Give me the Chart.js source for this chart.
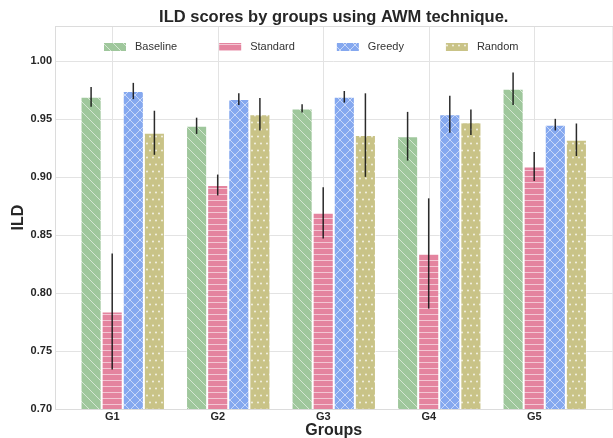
<!DOCTYPE html>
<html lang="en">
<head>
  <meta charset="UTF-8" />
  <title>ILD scores by groups using AWM technique</title>
  <script src="https://cdn.jsdelivr.net/npm/chart.js"></script>
  <style>
    body {
      margin: 0;
      background-color: #fff;
    }
    .chart-container {
      width: 613px;
      height: 438px;
    }
  </style>
</head>
<body>
  <div class="chart-container">
    <canvas id="barChart"></canvas>
  </div>

  <script>
    const groups = ['G1', 'G2', 'G3', 'G4', 'G5'];
    const methods = ['Baseline', 'Standard', 'Greedy', 'Random'];

    const baseline = [0.969, 0.944, 0.959, 0.935, 0.976];
    const baselineErr = [0.0085, 0.007, 0.0035, 0.021, 0.014];
    const standard = [0.784, 0.893, 0.869, 0.834, 0.909];
    const standardErr = [0.05, 0.009, 0.022, 0.0475, 0.0125];
    const greedy = [0.974, 0.967, 0.969, 0.954, 0.945];
    const greedyErr = [0.007, 0.005, 0.005, 0.016, 0.005];
    const random = [0.938, 0.954, 0.936, 0.947, 0.932];
    const randomErr = [0.019, 0.014, 0.036, 0.011, 0.014];

    const yTicks = [0.70, 0.75, 0.80, 0.85, 0.90, 0.95, 1.00];

    const chartTitle = 'ILD scores by groups using AWM technique.';

    const FONT = "'Liberation Sans', Arial, sans-serif";
    const GRID = '#e3e3e3';

    // hatch patterns, like matplotlib's '\\', '--', 'x' and '.'
    function makePattern(color, kind) {
      const c = document.createElement('canvas');
      const size = { diag: [10, 10], hline: [10, 6], cross: [10, 10], dots: [12, 14] }[kind];
      c.width = size[0];
      c.height = size[1];
      const g = c.getContext('2d');
      g.fillStyle = color;
      g.fillRect(0, 0, c.width, c.height);
      g.strokeStyle = 'rgba(255,255,255,0.55)';
      g.fillStyle = 'rgba(255,255,255,0.85)';
      g.lineWidth = 1;
      if (kind === 'diag') {
        g.beginPath();
        g.moveTo(-2, -2); g.lineTo(12, 12);
        g.moveTo(-2, 8); g.lineTo(2, 12);
        g.moveTo(8, -2); g.lineTo(12, 2);
        g.stroke();
      } else if (kind === 'hline') {
        g.beginPath();
        g.moveTo(0, 2.5); g.lineTo(10, 2.5);
        g.stroke();
      } else if (kind === 'cross') {
        g.beginPath();
        g.moveTo(-2, -2); g.lineTo(12, 12);
        g.moveTo(-2, 12); g.lineTo(12, -2);
        g.stroke();
      } else {
        [[3, 3.5], [9, 3.5], [0, 10.5], [6, 10.5], [12, 10.5]].forEach(p => {
          g.beginPath();
          g.arc(p[0], p[1], 0.9, 0, Math.PI * 2);
          g.fill();
        });
      }
      return g.createPattern(c, 'repeat');
    }

    const errors = [baselineErr, standardErr, greedyErr, randomErr];

    // frame and grid, extended a little past the bars like matplotlib margins
    const gridPlugin = {
      id: 'gridFrame',
      beforeDatasetsDraw(chart) {
        const { ctx, chartArea: a, scales } = chart;
        const ext = 15;
        ctx.save();
        ctx.strokeStyle = GRID;
        ctx.lineWidth = 1;
        scales.y.ticks.forEach(t => {
          const y = Math.round(scales.y.getPixelForValue(t.value)) + 0.5;
          ctx.beginPath();
          ctx.moveTo(a.left - ext, y);
          ctx.lineTo(a.right + ext, y);
          ctx.stroke();
        });
        chart.getDatasetMeta(1).data.forEach(bar => {
          const x = Math.round(bar.x) + 0.5;
          ctx.beginPath();
          ctx.moveTo(x, a.top);
          ctx.lineTo(x, a.bottom);
          ctx.stroke();
        });
        ctx.strokeStyle = '#dcdcdc';
        ctx.strokeRect(Math.round(a.left - ext) + 0.5, Math.round(a.top) + 0.5,
          a.right - a.left + 2 * ext, Math.round(a.bottom) - Math.round(a.top));
        ctx.restore();
      }
    };

    const errorBarPlugin = {
      id: 'errorBars',
      afterDatasetsDraw(chart) {
        const { ctx, scales } = chart;
        ctx.save();
        ctx.strokeStyle = 'rgba(20,20,20,0.9)';
        ctx.lineWidth = 1.5;
        chart.data.datasets.forEach((ds, d) => {
          chart.getDatasetMeta(d).data.forEach((bar, i) => {
            const v = ds.data[i];
            const e = errors[d][i];
            ctx.beginPath();
            ctx.moveTo(bar.x, scales.y.getPixelForValue(v + e));
            ctx.lineTo(bar.x, scales.y.getPixelForValue(v - e));
            ctx.stroke();
          });
        });
        ctx.restore();
      }
    };

    // legend inside the plot and title centred over the axes, as matplotlib does
    const legendPlugin = {
      id: 'innerLegend',
      afterDraw(chart) {
        const { ctx, chartArea: a } = chart;
        let x = a.left + 34;
        const y = a.top + 21;
        ctx.save();
        ctx.font = '11px ' + FONT;
        ctx.textBaseline = 'middle';
        chart.data.datasets.forEach(ds => {
          ctx.fillStyle = ds.backgroundColor;
          ctx.fillRect(x, y - 4, 22, 8);
          ctx.fillStyle = '#333';
          ctx.fillText(ds.label, x + 31, y);
          x += 31 + ctx.measureText(ds.label).width + 42;
        });

        ctx.font = 'bold 16.5px ' + FONT;
        ctx.fillStyle = '#262626';
        ctx.textAlign = 'center';
        ctx.fillText(chartTitle, (a.left + a.right) / 2, 17);
        ctx.restore();
      }
    };

    const ctx = document.getElementById('barChart').getContext('2d');
    new Chart(ctx, {
      type: 'bar',
      data: {
        labels: groups,
        datasets: [
          { label: methods[0], data: baseline, backgroundColor: makePattern('#9fc79c', 'diag') },
          { label: methods[1], data: standard, backgroundColor: makePattern('#e4849f', 'hline') },
          { label: methods[2], data: greedy, backgroundColor: makePattern('#85a8ef', 'cross') },
          { label: methods[3], data: random, backgroundColor: makePattern('#c9c387', 'dots') }
        ].map(ds => Object.assign(ds, {
          borderWidth: 1,
          borderColor: 'rgba(255,255,255,0.5)',
          categoryPercentage: 0.8,
          barPercentage: 1.0
        }))
      },
      options: {
        responsive: true,
        maintainAspectRatio: false,
        animation: false,
        layout: { padding: { left: 0, right: 15.5, top: 26, bottom: 0 } },
        plugins: {
          legend: { display: false },
          tooltip: { enabled: false },
          title: { display: false }
        },
        scales: {
          x: {
            grid: { display: false, drawTicks: false },
            border: { display: false },
            ticks: {
              color: '#262626',
              font: { family: FONT, size: 11, weight: 'bold' },
              padding: 1,
              labelOffset: -10.5
            },
            title: {
              display: true,
              text: 'Groups',
              color: '#262626',
              font: { family: FONT, size: 16, weight: 'bold' },
              padding: { top: 0, bottom: -2 }
            },
            afterFit(scale) { scale.height = 29; }
          },
          y: {
            min: 0.70,
            max: 1.03,
            grid: { display: false, drawTicks: false },
            border: { display: false },
            afterBuildTicks(scale) {
              scale.ticks = yTicks.map(v => ({ value: v }));
            },
            ticks: {
              color: '#262626',
              font: { family: FONT, size: 11, weight: 'bold' },
              padding: 18,
              callback: v => v.toFixed(2)
            },
            title: {
              display: true,
              text: 'ILD',
              color: '#262626',
              font: { family: FONT, size: 16, weight: 'bold' },
              padding: { top: 9, bottom: 0 }
            },
            afterFit(scale) { scale.width = 70; }
          }
        }
      },
      plugins: [gridPlugin, errorBarPlugin, legendPlugin]
    });
  </script>
</body>
</html>
